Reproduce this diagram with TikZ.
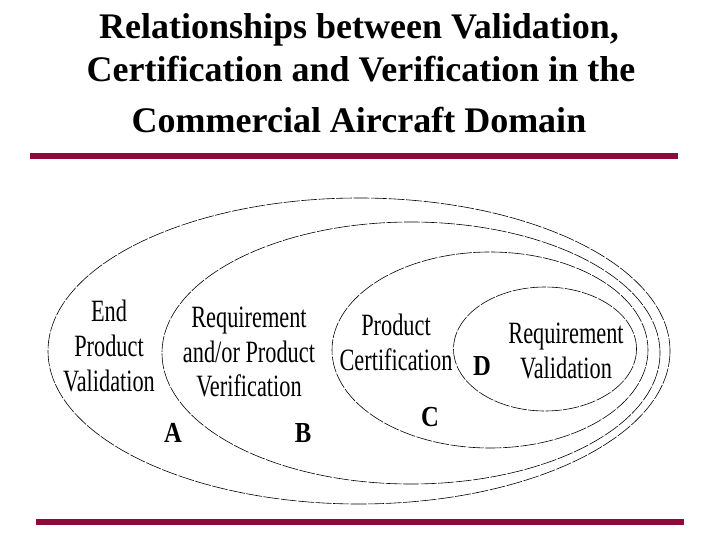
\documentclass[tikz,border=0pt]{standalone}
\usepackage{fontspec}
\setmainfont{Liberation Serif}
\newfontfamily\narrowfont[FakeStretch=0.72]{Liberation Serif}
\newfontfamily\narrowbold[FakeStretch=0.85]{Liberation Serif Bold}
\definecolor{barred}{RGB}{140,10,60}
\tikzset{
  ell/.style={line width=0.6pt, dash pattern=on 16pt off 1.5pt},
  bar/.style={fill=barred, draw=none},
  titletext/.style={anchor=base, inner sep=0pt, font=\fontsize{36}{40}\selectfont\bfseries},
  lbl/.style={anchor=base, inner sep=0pt, font=\narrowfont\fontsize{31}{34}\selectfont},
  letter/.style={anchor=base, inner sep=0pt, font=\narrowbold\fontsize{29}{30}\selectfont}
}
\begin{document}
\begin{tikzpicture}[x=1pt,y=-1pt]
\useasboundingbox (0,0) rectangle (720,540);
% title
\node[titletext] (t1) at (359,39) {Relationships between Validation,};
\node[titletext] (t2) at (361,82) {Certification and Verification in the};
\node[titletext] (t3) at (359,133) {Commercial Aircraft Domain};
% bars
\fill[bar] (30,153) rectangle (678,159);
\fill[bar] (36,519) rectangle (684,525);
% ellipses
\draw[ell] (359,351) ellipse [x radius=311, y radius=153];
\draw[ell] (411,353) ellipse [x radius=249, y radius=131];
\draw[ell] (490,350) ellipse [x radius=158, y radius=98];
\draw[ell] (545,349) ellipse [x radius=91.5, y radius=62];
% A region
\node[lbl] (a1) at (109,321) {End};
\node[lbl] (a2) at (109,356) {Product};
\node[lbl] (a3) at (109,391) {Validation};
% B region
\node[lbl] (b1) at (249,327) {Requirement};
\node[lbl] (b2) at (249,362) {and/or Product};
\node[lbl] (b3) at (249,396) {Verification};
% C region
\node[lbl] (c1) at (396,335) {Product};
\node[lbl] (c2) at (396,370) {Certification};
% D region
\node[lbl] (d1) at (566,343) {Requirement};
\node[lbl] (d2) at (566,378) {Validation};
% letters
\node[letter] (A) at (173,442) {A};
\node[letter] (B) at (303,442) {B};
\node[letter] (C) at (430,426) {C};
\node[letter] (D) at (482,375) {D};
\end{tikzpicture}
\end{document}
